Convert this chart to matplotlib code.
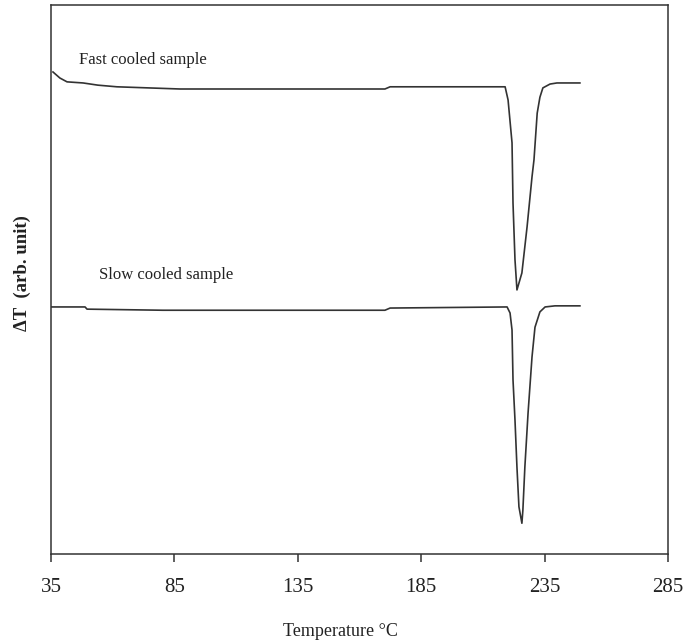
import matplotlib
matplotlib.use("Agg")
import matplotlib.pyplot as plt

# Fast cooled sample (temperature in °C, signal in arbitrary units)
fast_T = [35.8, 38.6, 41.5, 48.0, 54.0, 61.7, 87.3, 170.3, 172.4, 219.0, 220.2, 221.8,
          222.2, 223.0, 223.8, 225.8, 227.9, 229.9, 230.7, 232.0, 233.1, 234.3, 237.2, 240.0, 249.3]
fast_y = [87.8, 86.7, 86.0, 85.8, 85.4, 85.1, 84.7, 84.7, 85.1, 85.1, 82.7, 74.9,
          63.9, 53.6, 48.1, 51.2, 59.6, 68.7, 71.8, 80.3, 83.2, 84.9, 85.6, 85.8, 85.8]

# Slow cooled sample
slow_T = [35.0, 48.8, 49.6, 80.4, 170.3, 172.4, 219.8, 221.0, 221.8, 222.2, 223.0, 223.8,
          224.6, 225.8, 226.2, 227.0, 228.3, 229.9, 231.1, 233.1, 235.2, 239.2, 249.3]
slow_y = [45.0, 45.0, 44.6, 44.4, 44.4, 44.8, 45.0, 43.9, 40.8, 31.7, 24.4, 15.8,
          8.6, 5.6, 8.0, 15.8, 25.7, 35.9, 41.3, 44.1, 45.0, 45.2, 45.2]

x_ticks = [35, 85, 135, 185, 235, 285]

plt.rcParams['font.family'] = ['Liberation Serif', 'DejaVu Serif']

fig = plt.figure(figsize=(6.97, 6.43), dpi=100)
ax = fig.add_axes([51/697, 1-554/643, 617/697, 549/643])

line_color = '#333333'
ax.plot(fast_T, fast_y, color=line_color, lw=1.2)
ax.plot(slow_T, slow_y, color=line_color, lw=1.2)

ax.set_xlim(35, 285)
ax.set_ylim(0, 100)
ax.set_xticks(x_ticks)
ax.set_xticklabels([str(t) for t in x_ticks], fontsize=15, color='#222222')
ax.tick_params(axis='x', direction='out', length=6, width=1.1, pad=11, color='#333333')
ax.set_yticks([])

for s in ax.spines.values():
    s.set_color('#333333')
    s.set_linewidth(1.1)

ax.text(46.3, 90.0, 'Fast cooled sample', fontsize=12, va='center', ha='left', color='#222222')
ax.text(54.4, 50.8, 'Slow cooled sample', fontsize=12, va='center', ha='left', color='#222222')

ax.set_xlabel('Temperature °C', fontsize=13, color='#222222')
ax.xaxis.set_label_coords((340-51)/617, (554-632)/549)
ax.set_ylabel('ΔT  (arb. unit)', fontsize=13.5, fontweight='bold', color='#222222')
ax.yaxis.set_label_coords((22-51)/617, (554-273)/549)
ax.xaxis.label.set_va('center')
ax.yaxis.label.set_va('center')

fig.savefig('out.png', dpi=100)
